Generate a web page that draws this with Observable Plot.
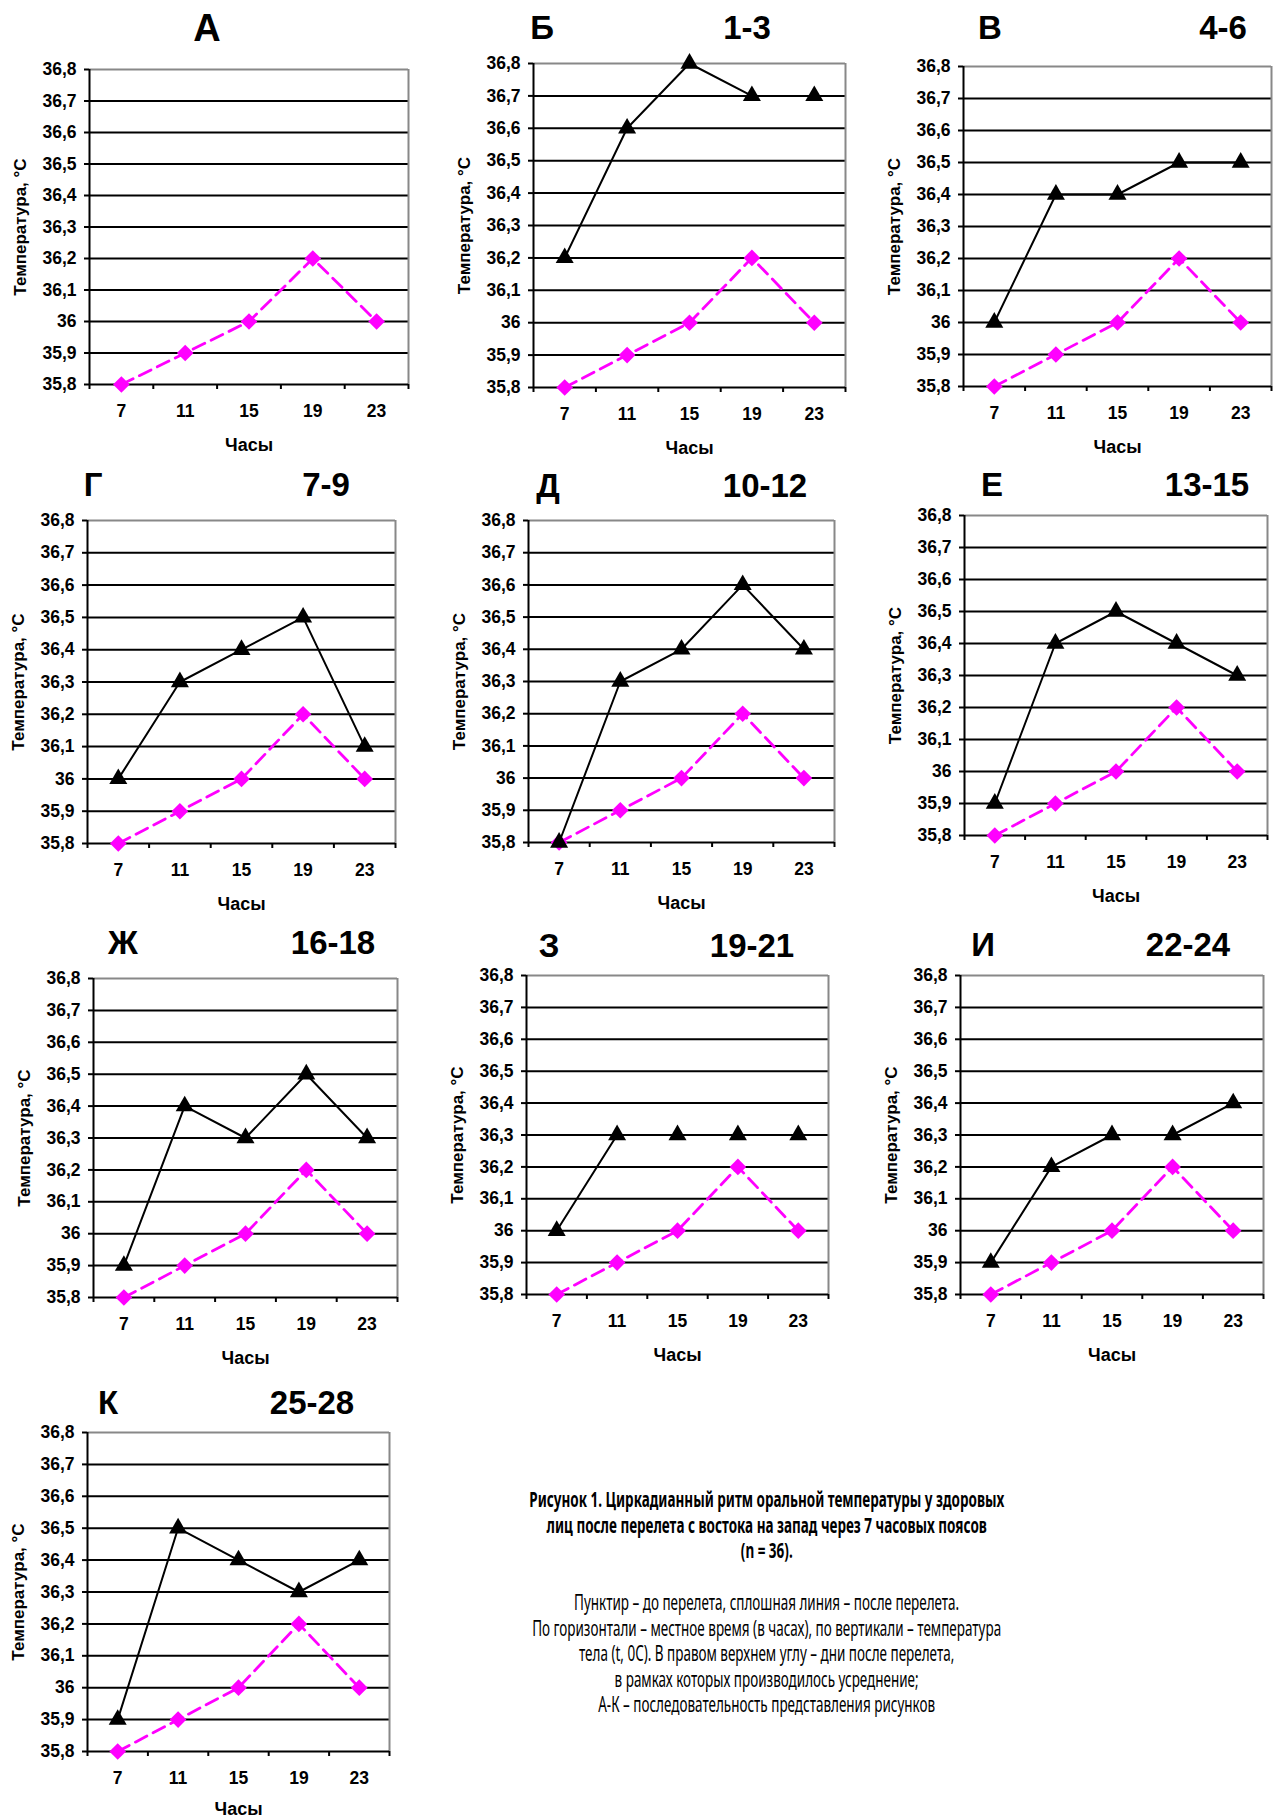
<!DOCTYPE html>
<html><head><meta charset="utf-8">
<script src="https://cdn.jsdelivr.net/npm/d3@7"></script>
<script src="https://cdn.jsdelivr.net/npm/@observablehq/plot@0.6"></script>
<style>
html,body{margin:0;padding:0;background:#fff;overflow:hidden}
#page{position:relative;width:1273px;height:1820px;background:#fff;overflow:hidden}
.panel{position:absolute}
.ttl{position:absolute;font-family:"Liberation Sans",Arial,sans-serif;font-weight:bold;line-height:1;transform:translate(-50%,-50%);white-space:nowrap;color:#000}
.cap{position:absolute;font-family:"Noto Sans",sans-serif;color:#000;text-align:center;white-space:nowrap;line-height:25.5px;font-size:21px}
</style></head><body><div id="page"></div>
<script>
// ---- data ----
const hours = [7, 11, 15, 19, 23];
const boundaries = [5, 9, 13, 17, 21, 25];
const yTicks = [35.8, 35.9, 36.0, 36.1, 36.2, 36.3, 36.4, 36.5, 36.6, 36.7, 36.8];
const before = [35.8, 35.9, 36.0, 36.2, 36.0];
const days1_3 = [36.2, 36.6, 36.8, 36.7, 36.7];
const days4_6 = [36.0, 36.4, 36.4, 36.5, 36.5];
const days7_9 = [36.0, 36.3, 36.4, 36.5, 36.1];
const days10_12 = [35.8, 36.3, 36.4, 36.6, 36.4];
const days13_15 = [35.9, 36.4, 36.5, 36.4, 36.3];
const days16_18 = [35.9, 36.4, 36.3, 36.5, 36.3];
const days19_21 = [36.0, 36.3, 36.3, 36.3, 36.3];
const days22_24 = [35.9, 36.2, 36.3, 36.3, 36.4];
const days25_28 = [35.9, 36.5, 36.4, 36.3, 36.4];
const afterSeries = [null, days1_3, days4_6, days7_9, days10_12, days13_15, days16_18, days19_21, days22_24, days25_28];
const letters = ["А", "Б", "В", "Г", "Д", "Е", "Ж", "З", "И", "К"];
const dayLabels = ["", "1-3", "4-6", "7-9", "10-12", "13-15", "16-18", "19-21", "22-24", "25-28"];
const yTitle = "Температура, °C";
const xTitle = "Часы";
const captionBold = [
  "Рисунок 1. Циркадианный ритм оральной температуры у здоровых",
  "лиц после перелета с востока на запад через 7 часовых поясов",
  "(n = 36)."
];
const captionNormal = [
  "Пунктир – до перелета, сплошная линия – после перелета.",
  "По горизонтали – местное время (в часах), по вертикали – температура",
  "тела (t, 0C). В правом верхнем углу – дни после перелета,",
  "в рамках которых производилось усреднение;",
  "А-К – последовательность представления рисунков"
];

// ---- layout (plot frame: left, top, right, bottom) ----
const frames = [
  [89, 69, 408, 384], [533, 63, 845, 387], [963, 66, 1271, 386],
  [87, 520, 395, 843], [528, 520, 834, 842], [964, 515, 1267, 835],
  [93, 978, 397, 1297], [526, 975, 828, 1294], [960, 975, 1263, 1294],
  [87, 1432, 389, 1751]
];
const titlePos = [
  [207, 28, null], [542, 27, 747], [990, 27, 1223],
  [93, 484, 326], [548, 485, 765], [992, 484, 1207],
  [123, 942, 333], [549, 945, 752], [983, 944, 1188],
  [108, 1402, 312]
];

const page = document.getElementById("page");
const fmt = d => String(Math.round(d * 10) / 10).replace(".", ",");

function addText(txt, x, y, size) {
  const d = document.createElement("div");
  d.className = "ttl";
  d.textContent = txt;
  d.style.left = x + "px";
  d.style.top = y + "px";
  d.style.fontSize = size + "px";
  page.appendChild(d);
}

function panel(i) {
  const [L, T, R, B] = frames[i];
  const mL = 86, mT = 14, mR = 2, mB = 75;
  const w = R - L, h = B - T;
  const after = afterSeries[i];
  const rows = hours.map((hr, j) => ({hour: hr, before: before[j], after: after ? after[j] : null}));
  const xTitleDy = Math.min(61, 1809 - B);
  const marks = [
    Plot.ruleY(yTicks.slice(1, -1), {stroke: "#000", strokeWidth: 2}),
    Plot.ruleY([yTicks[yTicks.length - 1]], {stroke: "#888", strokeWidth: 2}),
    Plot.ruleX([boundaries[boundaries.length - 1]], {stroke: "#888", strokeWidth: 2}),
    Plot.ruleY([yTicks[0]], {stroke: "#000", strokeWidth: 2}),
    Plot.ruleX([boundaries[0]], {stroke: "#000", strokeWidth: 2}),
    Plot.axisY({ticks: yTicks, tickSize: 5, tickPadding: 8, tickFormat: fmt, fontSize: 17.5, fontWeight: "bold", strokeWidth: 2, label: null}),
    Plot.axisX({ticks: hours, tickSize: 0, tickPadding: 20, tickFormat: d => String(d), fontSize: 17.5, fontWeight: "bold", label: null}),
    Plot.axisX({ticks: boundaries, tickSize: 5, tickFormat: () => "", strokeWidth: 2, label: null}),
    Plot.text([yTitle], {frameAnchor: "left", dx: -69, rotate: -90, textAnchor: "middle", lineAnchor: "middle", fontSize: 17, fontWeight: "bold", fill: "#000"}),
    Plot.text([xTitle], {frameAnchor: "bottom", dy: xTitleDy, textAnchor: "middle", lineAnchor: "middle", fontSize: 18, fontWeight: "bold", fill: "#000"}),
    Plot.line(rows, {x: "hour", y: "before", stroke: "#FF00FF", strokeWidth: 2.8, strokeDasharray: "13,7"}),
    Plot.dot(rows, {x: "hour", y: "before", symbol: "diamond2", r: 7.5, fill: "#FF00FF", stroke: "none"})
  ];
  if (after) {
    marks.push(Plot.line(rows, {x: "hour", y: "after", stroke: "#000", strokeWidth: 2}));
    marks.push(Plot.dot(rows, {x: "hour", y: "after", symbol: "triangle", r: 6.7, fill: "#000", stroke: "none"}));
  }
  const svg = Plot.plot({
    width: w + mL + mR, height: h + mT + mB,
    marginLeft: mL, marginTop: mT, marginRight: mR, marginBottom: mB,
    x: {type: "linear", domain: [boundaries[0], boundaries[boundaries.length - 1]]},
    y: {type: "linear", domain: [yTicks[0], yTicks[yTicks.length - 1]]},
    style: {fontFamily: "'Liberation Sans', Arial, sans-serif", fontSize: "17.5px", color: "#000", background: "transparent", overflow: "visible"},
    marks
  });
  svg.classList.add("panel");
  svg.style.left = (L - mL) + "px";
  svg.style.top = (T - mT) + "px";
  page.appendChild(svg);
  const [tx, ty, dx] = titlePos[i];
  addText(letters[i], tx, ty, i === 0 ? 38 : 33);
  if (dx !== null) addText(dayLabels[i], dx, ty, 33);
}

for (let i = 0; i < frames.length; i++) panel(i);

function caption(lines, top, bold, targetIdx, targetW) {
  const div = document.createElement("div");
  div.className = "cap";
  div.style.fontWeight = bold ? "bold" : "normal";
  lines.forEach(t => {
    const d = document.createElement("div");
    const s = document.createElement("span");
    s.textContent = t;
    d.appendChild(s);
    div.appendChild(d);
  });
  page.appendChild(div);
  const mw = div.children[targetIdx].firstChild.getBoundingClientRect().width;
  const k = targetW / mw;
  const cw = div.getBoundingClientRect().width;
  div.style.left = (767 - cw / 2) + "px";
  div.style.top = top + "px";
  div.style.transformOrigin = "center top";
  div.style.transform = `scaleX(${k})`;
}
caption(captionBold, 1487, true, 0, 475);
caption(captionNormal, 1590, false, 1, 469);
</script></body></html>
